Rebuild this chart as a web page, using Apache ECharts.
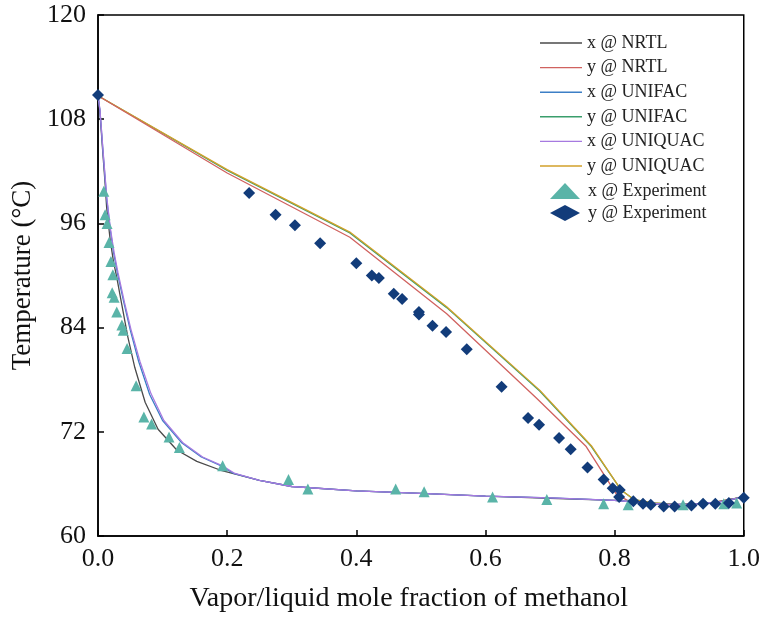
<!DOCTYPE html>
<html>
<head>
<meta charset="utf-8">
<script src="https://cdn.jsdelivr.net/npm/echarts@6/dist/echarts.min.js"></script>
<style>
  html, body { margin: 0; padding: 0; background: #fff; }
  #chart { width: 763px; height: 619px; }
</style>
</head>
<body>
<div id="chart"></div>
<script>
// model curves: [mole fraction, temperature]
var xNRTL = [[0,110.7],[0.003,108.8],[0.007,104.6],[0.011,100.6],[0.0134,97.8],[0.019,94.0],[0.024,91.6],[0.029,89.8],[0.037,86.6],[0.046,83.0],[0.057,79.4],[0.073,75.4],[0.093,72.3],[0.122,69.9],[0.153,68.6],[0.189,67.6],[0.25,66.4],[0.3,65.7],[0.4,65.2],[0.5,64.9],[0.6,64.6],[0.7,64.35],[0.8,64.1],[0.85,63.8],[0.88,63.65],[0.92,63.65],[0.96,63.9],[1.0,64.5]]
var yNRTL = [[0,110.7],[0.2,101.8],[0.39,94.4],[0.54,85.6],[0.68,75.8],[0.756,70.3],[0.803,64.8],[0.82,64.1],[0.85,63.8],[0.88,63.6],[0.9,63.6],[0.95,63.8],[1.0,64.5]]
var xUNIFAC = [[0,110.7],[0.003,109.0],[0.008,104.0],[0.0134,98.9],[0.019,95.3],[0.024,92.7],[0.03,90.3],[0.04,86.9],[0.05,83.7],[0.063,80.1],[0.08,76.3],[0.1,73.3],[0.13,70.7],[0.16,69.1],[0.19,68.1],[0.21,67.2],[0.25,66.4],[0.3,65.7],[0.4,65.2],[0.5,64.9],[0.6,64.6],[0.7,64.4],[0.8,64.1],[0.85,63.8],[0.88,63.65],[0.92,63.65],[0.96,63.9],[1.0,64.5]]
var yUNIFAC = [[0,110.7],[0.2,102.1],[0.39,94.9],[0.54,86.3],[0.684,76.7],[0.764,70.3],[0.81,65.3],[0.83,64.2],[0.86,63.8],[0.9,63.6],[0.95,63.8],[1.0,64.5]]
var xUNIQUAC = [[0,110.7],[0.003,109.1],[0.008,104.2],[0.0136,99.0],[0.019,95.5],[0.025,92.6],[0.031,90.3],[0.041,86.9],[0.051,83.8],[0.065,80.1],[0.082,76.4],[0.102,73.3],[0.132,70.7],[0.162,69.1],[0.192,68.1],[0.212,67.2],[0.25,66.4],[0.3,65.7],[0.4,65.2],[0.5,64.9],[0.6,64.6],[0.7,64.4],[0.8,64.1],[0.85,63.8],[0.88,63.65],[0.92,63.65],[0.96,63.9],[1.0,64.5]]
var yUNIQUAC = [[0,110.7],[0.2,102.2],[0.39,95.0],[0.54,86.4],[0.684,76.8],[0.765,70.3],[0.81,65.3],[0.83,64.2],[0.86,63.8],[0.9,63.6],[0.95,63.8],[1.0,64.5]]

// experimental points
var xExp = [[0.009,99.7],[0.011,97.0],[0.014,96.0],[0.017,93.8],[0.020,91.6],[0.023,90.1],[0.022,88.0],[0.025,87.5],[0.029,85.8],[0.037,84.3],[0.039,83.7],[0.045,81.6],[0.059,77.3],[0.071,73.7],[0.083,72.9],[0.110,71.4],[0.126,70.2],[0.193,68.1],[0.295,66.5],[0.325,65.4],[0.461,65.4],[0.505,65.1],[0.611,64.5],[0.695,64.2],[0.783,63.7],[0.821,63.6],[0.906,63.6],[0.969,63.7],[0.989,63.8]]
var yExp = [[0,110.8],[0.234,99.5],[0.275,97.0],[0.305,95.8],[0.344,93.7],[0.400,91.4],[0.424,90.0],[0.435,89.7],[0.458,87.9],[0.471,87.3],[0.497,85.8],[0.497,85.5],[0.518,84.2],[0.539,83.5],[0.571,81.5],[0.625,77.2],[0.666,73.6],[0.683,72.8],[0.714,71.3],[0.732,70.0],[0.758,67.9],[0.783,66.5],[0.797,65.5],[0.808,65.3],[0.807,64.5],[0.829,64.0],[0.844,63.7],[0.856,63.6],[0.876,63.4],[0.893,63.4],[0.919,63.5],[0.937,63.7],[0.956,63.7],[0.977,63.8],[1.0,64.4]]

var lineNames = ['x @ NRTL', 'y @ NRTL', 'x @ UNIFAC', 'y @ UNIFAC', 'x @ UNIQUAC', 'y @ UNIQUAC']
var lineColors = ['#4a4a4a', '#d0625f', '#3c7fc6', '#3a9e6c', '#a67ae0', '#d2a12a']
var lineData = [xNRTL, yNRTL, xUNIFAC, yUNIFAC, xUNIQUAC, yUNIQUAC]

var font = 'Liberation Serif, Times New Roman, serif'
var chart = echarts.init(document.getElementById('chart'))

var series = []
// draw order: green under gold, blue under purple
var order = [3, 5, 1, 0, 2, 4]
order.forEach(function(i) {
  series.push({
    name: lineNames[i],
    type: 'line',
    data: lineData[i],
    symbol: 'none',
    lineStyle: { color: lineColors[i], width: 1.3 },
    itemStyle: { color: lineColors[i] },
    z: 2
  })
})
series.push({
  name: 'x @ Experiment',
  type: 'scatter',
  data: xExp,
  symbol: 'triangle',
  symbolSize: 11,
  itemStyle: { color: '#5ab4a8', opacity: 1 },
  z: 3
})
series.push({
  name: 'y @ Experiment',
  type: 'scatter',
  data: yExp,
  symbol: 'diamond',
  symbolSize: 12,
  itemStyle: { color: '#123c7a', opacity: 1 },
  z: 4
})

// legend line icon: a thin bar
var lineIcon = 'path://M0,0 L42,0 L42,1.4 L0,1.4 Z'

var option = {
  backgroundColor: '#ffffff',
  animation: false,
  grid: {
    left: 98, top: 15, right: 19, bottom: 83,
    show: true, borderColor: '#000', borderWidth: 1.5
  },
  legend: [{
    orient: 'vertical',
    left: 540, top: 34, padding: 0,
    itemWidth: 42, itemHeight: 16, itemGap: 6.6,
    data: lineNames.map(function(n) { return { name: n, icon: lineIcon } }),
    textStyle: { fontFamily: font, fontSize: 18, color: '#222' }
  }, {
    orient: 'vertical',
    left: 550, top: 182, padding: 0,
    itemWidth: 30, itemHeight: 16, itemGap: 4,
    data: ['x @ Experiment', 'y @ Experiment'],
    textStyle: { fontFamily: font, fontSize: 18, color: '#222', padding: [0, 0, 0, 3] }
  }],
  xAxis: {
    type: 'value',
    min: 0, max: 1, interval: 0.2,
    name: 'Vapor/liquid mole fraction of methanol',
    nameLocation: 'middle', nameGap: 49,
    nameTextStyle: { fontFamily: font, fontSize: 28, color: '#111', padding: [0, 24, 0, 0] },
    axisLine: { lineStyle: { color: '#000', width: 1.5 } },
    axisTick: { inside: true, length: 6, lineStyle: { color: '#000', width: 1.5 } },
    axisLabel: {
      fontFamily: font, fontSize: 26, color: '#111', margin: 10,
      formatter: function(v) { return v.toFixed(1) }
    },
    splitLine: { show: false }
  },
  yAxis: {
    type: 'value',
    min: 60, max: 120, interval: 12,
    name: 'Temperature (°C)',
    nameLocation: 'middle', nameGap: 55,
    nameTextStyle: { fontFamily: font, fontSize: 27, color: '#111' },
    axisLine: { lineStyle: { color: '#000', width: 1.5 } },
    axisTick: { inside: true, length: 6, lineStyle: { color: '#000', width: 1.5 } },
    axisLabel: { fontFamily: font, fontSize: 26, color: '#111', margin: 12 },
    splitLine: { show: false }
  },
  series: series
}
chart.setOption(option)
</script>
</body>
</html>
